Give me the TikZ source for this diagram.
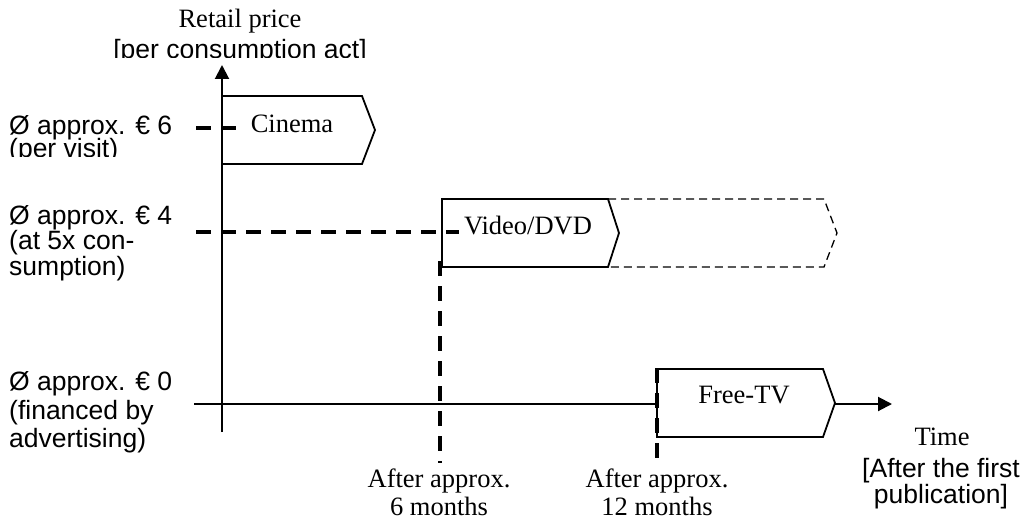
\documentclass[tikz,border=0pt]{standalone}
\usepackage{fontspec}
\setmainfont{Liberation Serif}
\newfontfamily\arialfont{Liberation Sans}
\usetikzlibrary{arrows.meta}
\begin{document}
\begin{tikzpicture}[x=1pt,y=-1pt,
  serif/.style={font=\fontsize{26.5}{26.5}\selectfont, inner sep=0pt},
  sans/.style={font=\arialfont\fontsize{26.5}{26.5}\selectfont, inner sep=0pt},
  axis/.style={line width=2pt},
  tip/.style={-{Triangle[length=14pt,width=14pt]}},
  phasebox/.style={draw, line width=1.8pt, fill=white, line join=miter},
  laterbox/.style={draw, line width=1.3pt, dash pattern=on 8pt off 5pt},
  guide/.style={line width=3.5pt, dash pattern=on 15pt off 10pt},
]
\useasboundingbox (0,0) rectangle (1027,521);

% axes
\coordinate (ybot) at (222,432);
\coordinate (ytop) at (222,65);
\coordinate (xleft) at (194,404);
\coordinate (xright) at (892,404);
\draw[axis, tip] (ybot) -- (ytop);
\draw[axis, tip] (xleft) -- (xright);

% later continuation of the video phase
\draw[laterbox] (608,199) -- (824,199) -- (837,233) -- (824,267) -- (608,267);

% release windows
\draw[phasebox] (222,96) -- (362,96) -- (375,130) -- (362,164) -- (222,164) -- cycle;
\draw[phasebox] (442,199) -- (608,199) -- (619,233) -- (608,267) -- (442,267) -- cycle;
\draw[phasebox] (657,369) -- (823,369) -- (835,403) -- (823,437) -- (657,437) -- cycle;

\node[serif, anchor=base] (cinema) at (292,133) {Cinema};
\node[serif, anchor=base] (video) at (528,235) {Video/DVD};
\node[serif, anchor=base] (freetv) at (744,403) {Free-TV};

% price and time guides
\coordinate (p6a) at (196,128);
\coordinate (p6b) at (236,128);
\coordinate (p4a) at (196,232);
\coordinate (p4b) at (459,232);
\coordinate (t6a) at (440,261);
\coordinate (t6b) at (440,463);
\coordinate (t12a) at (657,368);
\coordinate (t12b) at (657,463);
\draw[guide] (p6a) -- (p6b);
\draw[guide] (p4a) -- (p4b);
\draw[guide] (t6a) -- (t6b);
\draw[guide] (t12a) -- (t12b);

% axis titles
\node[serif, anchor=base] (ytitle) at (240,28) {Retail price};
\begin{scope}
  \clip (0,0) rectangle (1027,58);
  \node[sans, anchor=base] (yunit) at (240,59) {[per consumption act]};
\end{scope}
\node[serif, anchor=base] (xtitle) at (942,445) {Time};
\node[sans, anchor=base] (xunit1) at (941,477) {[After the first};
\node[sans, anchor=base] (xunit2) at (941,503) {publication]};

% price levels
\node[sans, anchor=base west] (e6a) at (9,135) {Ø approx. € 6};
\begin{scope}
  \clip (0,0) rectangle (200,157);
  \node[sans, anchor=base west] (e6b) at (9,158) {(per visit)};
\end{scope}
\node[sans, anchor=base west] (e4a) at (9,225) {Ø approx. € 4};
\node[sans, anchor=base west] (e4b) at (9,250) {(at 5x con-};
\node[sans, anchor=base west] (e4c) at (9,275) {sumption)};
\node[sans, anchor=base west] (e0a) at (9,390) {Ø approx. € 0};
\node[sans, anchor=base west] (e0b) at (9,419) {(financed by};
\node[sans, anchor=base west] (e0c) at (9,447) {advertising)};

% release dates
\node[serif, anchor=base] (d6a) at (439,487) {After approx.};
\node[serif, anchor=base] (d6b) at (439,515) {6 months};
\node[serif, anchor=base] (d12a) at (657,487) {After approx.};
\node[serif, anchor=base] (d12b) at (657,515) {12 months};
\end{tikzpicture}
\end{document}
